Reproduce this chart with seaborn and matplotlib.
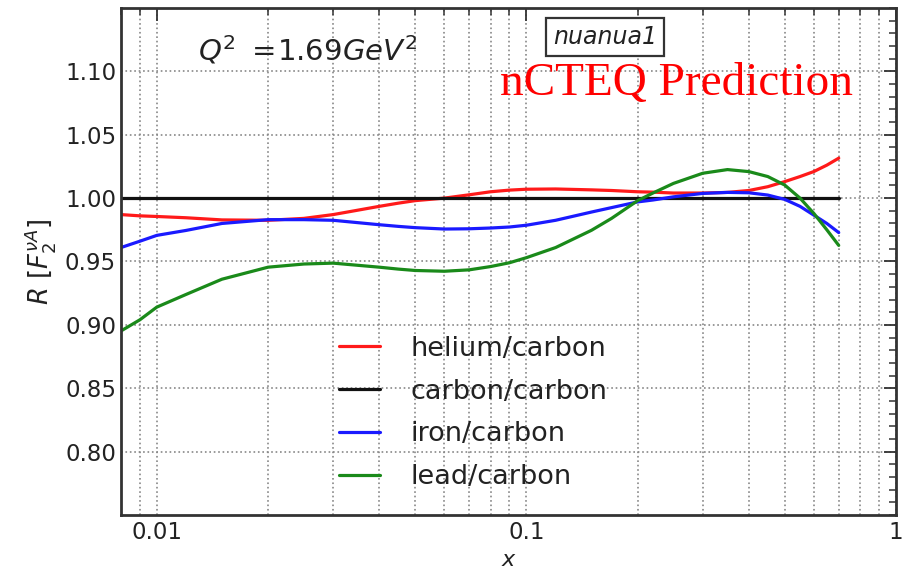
import numpy as np
import pandas as pd
import seaborn as sns
import matplotlib.pyplot as plt
from matplotlib.ticker import LogLocator, MultipleLocator, FixedLocator, FixedFormatter, NullFormatter

# x grid
x_vals = [0.008, 0.009, 0.01, 0.012, 0.015, 0.02, 0.025, 0.03, 0.04, 0.045, 0.05, 0.06,
          0.07, 0.08, 0.09, 0.1, 0.12, 0.15, 0.17, 0.2, 0.22, 0.25, 0.3, 0.35, 0.4,
          0.45, 0.5, 0.55, 0.6, 0.65, 0.7]

helium = [0.987, 0.986, 0.9855, 0.9845, 0.9828, 0.9825, 0.984, 0.987, 0.9935, 0.996, 0.998,
          1.000, 1.0026, 1.005, 1.0063, 1.007, 1.0072, 1.0065, 1.006, 1.005, 1.0047, 1.004,
          1.004, 1.0045, 1.006, 1.009, 1.013, 1.017, 1.021, 1.026, 1.0315]
carbon = [1.0] * len(x_vals)
iron = [0.961, 0.966, 0.9706, 0.9745, 0.980, 0.983, 0.983, 0.9825, 0.979, 0.9777, 0.9767,
        0.9756, 0.9758, 0.9764, 0.9772, 0.9786, 0.9825, 0.989, 0.9925, 0.997, 0.9985, 1.001,
        1.0037, 1.0045, 1.0042, 1.0024, 0.999, 0.9935, 0.9865, 0.980, 0.9728]
lead = [0.8952, 0.904, 0.914, 0.924, 0.936, 0.9455, 0.948, 0.9487, 0.9455, 0.944, 0.9429,
        0.9423, 0.9434, 0.946, 0.949, 0.953, 0.961, 0.9746, 0.984, 0.998, 1.004, 1.0116,
        1.0196, 1.0225, 1.0209, 1.017, 1.0103, 1.0, 0.9878, 0.975, 0.9627]

series_names = ['helium/carbon', 'carbon/carbon', 'iron/carbon', 'lead/carbon']
series_colors = ['#ff1a1a', '#111111', '#1a1aff', '#1a8a1a']
y_ticks = [0.80, 0.85, 0.90, 0.95, 1.00, 1.05, 1.10]

df = pd.concat([
    pd.DataFrame({'x': x_vals, 'R': vals, 'ratio': name})
    for name, vals in zip(series_names, [helium, carbon, iron, lead])
], ignore_index=True)

sns.set_style('white')
plt.rcParams['font.family'] = ['DejaVu Sans']

fig = plt.figure(figsize=(9.11, 5.69), dpi=100)
ax = fig.add_axes([0.1328, 0.0949, 0.8507, 0.8911])

sns.lineplot(data=df, x='x', y='R', hue='ratio', hue_order=series_names,
             palette=dict(zip(series_names, series_colors)), linewidth=2.3,
             ax=ax, sort=False, estimator=None)

ax.set_xscale('log')
ax.set_xlim(0.008, 1.0)
ax.set_ylim(0.75, 1.15)

ax.xaxis.set_major_locator(FixedLocator([0.01, 0.1, 1.0]))
ax.xaxis.set_major_formatter(FixedFormatter(['0.01', '0.1', '1']))
ax.xaxis.set_minor_locator(LogLocator(base=10, subs=np.arange(2, 10)))
ax.xaxis.set_minor_formatter(NullFormatter())
ax.yaxis.set_major_locator(FixedLocator(y_ticks))
ax.yaxis.set_minor_locator(MultipleLocator(0.01))
ax.yaxis.set_major_formatter(plt.FuncFormatter(lambda v, p: f'{v:.2f}'))

ax.tick_params(which='both', direction='in', top=True, right=True, colors='#333333',
               labelcolor='#222222', labelsize=16.5)
ax.tick_params(which='major', length=9, width=1.3)
ax.tick_params(which='minor', length=5, width=1.1)
ax.tick_params(axis='x', pad=4)

for s in ax.spines.values():
    s.set_color('#333333')
    s.set_linewidth(2)

ax.grid(True, which='major', axis='y', linestyle=':', color='#888888', linewidth=1.2)
ax.grid(True, which='both', axis='x', linestyle=':', color='#888888', linewidth=1.2)

ax.set_xlabel('$x$', fontsize=16, color='#222222')
ax.xaxis.set_label_coords(0.5, -0.069)
ax.set_ylabel(r'$R\ [F_2^{\nu A}]$', fontsize=18.5, labelpad=5, color='#222222')

ax.text(0.10, 0.917, r'$Q^2\ =\!1.69GeV^2$', transform=ax.transAxes,
        fontsize=21, va='center', ha='left', color='#222222')
ax.text(0.625, 0.943, 'nuanua1', transform=ax.transAxes, fontsize=17, style='italic',
        va='center', ha='center', color='#222222',
        bbox=dict(boxstyle='square,pad=0.3', facecolor='white', edgecolor='#333333', linewidth=1.6))
ax.text(0.489, 0.85, 'nCTEQ Prediction', transform=ax.transAxes, fontsize=34,
        family='Liberation Serif', color='#ff0000', va='center', ha='left')

leg = ax.legend(loc='center', bbox_to_anchor=(0.454, 0.201), frameon=False,
                fontsize=19.5, handlelength=1.55, handletextpad=1.1, labelspacing=0.62)
for line in leg.get_lines():
    line.set_linewidth(2.3)
for t in leg.get_texts():
    t.set_color('#222222')

fig.savefig('out.png', dpi=100)
